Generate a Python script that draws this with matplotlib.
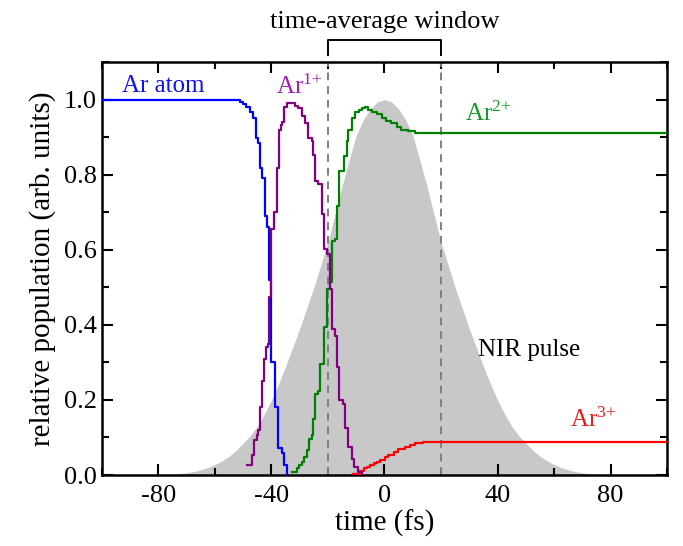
import matplotlib
matplotlib.use("Agg")
import matplotlib.pyplot as plt
from matplotlib.ticker import MultipleLocator

plt.rcParams['font.family'] = ['Liberation Serif', 'DejaVu Serif']
plt.rcParams['mathtext.fontset'] = 'custom'
plt.rcParams['mathtext.rm'] = 'Liberation Serif'
plt.rcParams['mathtext.default'] = 'regular'
plt.rcParams['axes.unicode_minus'] = False

# NIR pulse envelope (normalised)
pulse_t = [-80, -77.5, -75, -72.5, -70, -67.5, -65, -62.5, -60, -57.5, -55, -52.5, -50, -47.5,
           -45, -42.5, -40, -37.5, -35, -32.5, -30, -27.5, -25, -22.5, -20, -17.5, -15, -12.5,
           -10, -7.5, -5, -2.5, 0, 2.5, 5, 7.5, 10, 12.5, 15, 17.5, 20, 22.5, 25, 27.5, 30,
           32.5, 35, 37.5, 40, 42.5, 45, 47.5, 50, 52.5, 55, 57.5, 60, 62.5, 65, 67.5, 70,
           72.5, 75, 77.5, 80]
pulse_v = [0.0, 0.001, 0.002, 0.004, 0.006, 0.009, 0.014, 0.02, 0.028, 0.038, 0.05, 0.066, 0.085,
           0.105, 0.13, 0.163, 0.2, 0.243, 0.29, 0.34, 0.39, 0.445, 0.5, 0.56, 0.62, 0.695, 0.77,
           0.84, 0.905, 0.946, 0.975, 0.994, 1.0, 0.994, 0.975, 0.946, 0.905, 0.84, 0.77, 0.695,
           0.62, 0.56, 0.5, 0.445, 0.39, 0.34, 0.29, 0.243, 0.2, 0.163, 0.13, 0.105, 0.085, 0.066,
           0.05, 0.038, 0.028, 0.02, 0.014, 0.009, 0.006, 0.004, 0.002, 0.001, 0.0]

# step populations (value holds from t[i] until t[i+1])
ar0_t = [-100, -51, -50, -49, -47.6, -46.5, -45.6, -44.7, -44.0, -43.5, -42.3, -41.7, -40.8, -40.3,
         -38.8, -37.6, -36.4, -35.5, -34.6]
ar0_v = [1.0, 0.993, 0.987, 0.98, 0.968, 0.95, 0.897, 0.884, 0.818, 0.79, 0.69, 0.66, 0.52, 0.30,
         0.18, 0.072, 0.058, 0.027, 0.0]

ar1_t = [-48.8, -47.0, -46.1, -45.3, -44.7, -44.0, -43.2, -42.6, -41.9, -41.3, -40.8, -40.3, -39.0,
         -38.2, -37.3, -36.6, -36.2, -35.5, -34.6, -31.7, -30.5, -29.3, -28.1, -27.0, -25.8, -25.2,
         -24.6, -23.4, -22.2, -21.3, -20.5, -19.3, -18.7, -17.5, -16.7, -16.0, -14.6, -14.0, -12.8,
         -11.6, -10.8, -9.3, -8.1]
ar1_v = [0.027, 0.053, 0.093, 0.106, 0.12, 0.18, 0.25, 0.31, 0.34, 0.35, 0.473, 0.654, 0.70,
         0.818, 0.92, 0.933, 0.94, 0.981, 0.99, 0.984, 0.977, 0.955, 0.937, 0.897, 0.889, 0.853,
         0.782, 0.774, 0.695, 0.601, 0.589, 0.495, 0.389, 0.371, 0.287, 0.199, 0.19, 0.124, 0.075,
         0.044, 0.022, 0.009, 0.0]

ar2_t = [-32.9, -31.1, -30.3, -29.3, -28.5, -27.5, -26.6, -25.8, -25.2, -24.6, -23.6, -22.8, -21.5,
         -20.5, -19.2, -18.7, -17.5, -16.7, -16.0, -14.3, -13.4, -12.8, -11.6, -10.4, -9.2, -8.0,
         -6.8, -5.7, -4.5, -2.8, -1.0, 0.5, 2.2, 4.3, 6.0, 8.4, 10.8, 100]
ar2_v = [0.009, 0.018, 0.027, 0.035, 0.049, 0.066, 0.097, 0.106, 0.15, 0.217, 0.225, 0.296, 0.393,
         0.495, 0.513, 0.623, 0.628, 0.716, 0.809, 0.85, 0.89, 0.92, 0.95, 0.968, 0.973, 0.977,
         0.98, 0.973, 0.968, 0.961, 0.95, 0.943, 0.937, 0.928, 0.92, 0.915, 0.911, 0.911]

ar3_t = [-11.0, -8.6, -7.4, -6.2, -5.0, -3.8, -2.7, -1.6, 0.2, 1.4, 3.2, 4.9, 7.3, 9.0, 10.8, 13.7, 100]
ar3_v = [0.003, 0.012, 0.018, 0.022, 0.026, 0.031, 0.035, 0.04, 0.047, 0.053, 0.062, 0.069, 0.075,
         0.08, 0.084, 0.089, 0.089]

window = [-20, 20]

fig = plt.figure(figsize=(6.83, 5.46), dpi=100)
ax = fig.add_axes([0.1493, 0.130, 0.8273, 0.7564])

ax.fill_between(pulse_t, 0, pulse_v, color="#c8c8c8", lw=0, zorder=1)
for x in window:
    ax.axvline(x, color="#808080", ls=(0, (4, 3)), lw=1.4, zorder=2)

lw = 1.6
ax.plot(ar0_t, ar0_v, drawstyle="steps-post", color="#0000ff", lw=lw, zorder=3)
ax.plot(ar1_t, ar1_v, drawstyle="steps-post", color="#800080", lw=lw, zorder=4)
ax.plot(ar2_t, ar2_v, drawstyle="steps-post", color="#008000", lw=lw, zorder=3)
ax.plot(ar3_t, ar3_v, drawstyle="steps-post", color="#ff0000", lw=lw, zorder=3)

ax.set_xlim(-100, 100)
ax.set_ylim(0, 1.1)
ax.xaxis.set_major_locator(MultipleLocator(40))
ax.xaxis.set_minor_locator(MultipleLocator(20))
ax.yaxis.set_major_locator(MultipleLocator(0.2))
ax.yaxis.set_minor_locator(MultipleLocator(0.1))
ax.yaxis.set_major_formatter(lambda v, _: f"{v:.1f}")
ax.tick_params(which="both", direction="in", top=True, right=True, width=1.5, labelsize=19)
ax.tick_params(which="major", length=8)
ax.tick_params(which="minor", length=5)
ax.tick_params(axis="x", pad=7)
for s in ax.spines.values():
    s.set_linewidth(1.8)

ax.set_xlabel("time (fs)", fontsize=21, labelpad=2)
ax.set_ylabel("relative population (arb. units)", fontsize=21, labelpad=6)

ax.text(-92.9, 1.035, "Ar atom", color="#1010ee", fontsize=18, va="center")
ax.text(-38.4, 1.035, r"Ar$^{1{+}}$", color="#a020b8", fontsize=18, va="center")
ax.text(28.5, 0.963, r"Ar$^{2{+}}$", color="#129a2a", fontsize=18, va="center")
ax.text(33.2, 0.334, "NIR pulse", color="black", fontsize=18, va="center")
ax.text(65.6, 0.146, r"Ar$^{3{+}}$", color="#e02020", fontsize=18, va="center")

# bracket marking the time-average window
ax.plot([window[0], window[0], window[1], window[1]], [1.119, 1.159, 1.159, 1.119],
        color="black", lw=1.4, clip_on=False)
ax.text(0, 1.207, "time-average window", fontsize=19, ha="center", va="center")

fig.savefig("out.png", dpi=100)
